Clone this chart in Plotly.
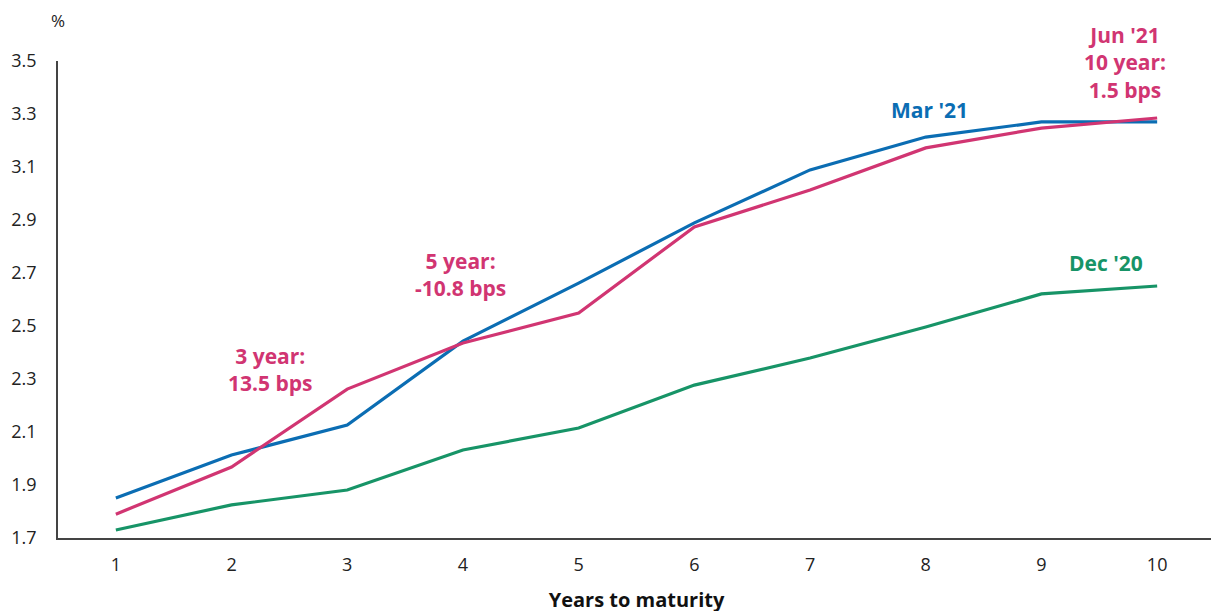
import plotly.graph_objects as go

years = [1, 2, 3, 4, 5, 6, 7, 8, 9, 10]
dec20 = [1.73, 1.825, 1.881, 2.032, 2.115, 2.277, 2.379, 2.496, 2.621, 2.651]
mar21 = [1.851, 2.013, 2.126, 2.443, 2.662, 2.889, 3.089, 3.213, 3.270, 3.270]
jun21 = [1.790, 1.968, 2.262, 2.436, 2.549, 2.874, 3.013, 3.172, 3.247, 3.285]
y_ticks = [1.7, 1.9, 2.1, 2.3, 2.5, 2.7, 2.9, 3.1, 3.3, 3.5]

BLUE = "#0b6db3"
PINK = "#d13572"
GREEN = "#179467"

fig = go.Figure()
for name, vals, col in [("Dec '20", dec20, GREEN), ("Mar '21", mar21, BLUE), ("Jun '21", jun21, PINK)]:
    fig.add_trace(go.Scatter(x=years, y=vals, mode="lines", name=name,
                             line=dict(color=col, width=3.2)))

afont = dict(family="Open Sans, Noto Sans, sans-serif", size=21, weight="bold")
annots = [
    (9.72, 3.496, "Jun '21<br>10 year:<br>1.5 bps", PINK),
    (8.03, 3.315, "Mar '21", BLUE),
    (9.56, 2.738, "Dec '20", GREEN),
    (3.98, 2.696, "5 year:<br>-10.8 bps", PINK),
    (2.33, 2.334, "3 year:<br>13.5 bps", PINK),
]
for x, y, t, c in annots:
    fig.add_annotation(x=x, y=y, text=t, showarrow=False, xanchor="center", yanchor="middle",
                       font=dict(color=c, **afont))

fig.add_annotation(xref="paper", yref="paper", x=0.0, y=1.0, yshift=41,
                   text="%", showarrow=False, xanchor="center", yanchor="middle",
                   font=dict(family="Open Sans, Noto Sans, sans-serif", size=17, color="#222"))

fig.update_layout(
    width=1219, height=611,
    margin=dict(l=50, r=12, t=53, b=81),
    paper_bgcolor="white", plot_bgcolor="white",
    showlegend=False,
    font=dict(family="Open Sans, Noto Sans, sans-serif", color="#222"),
)
fig.update_xaxes(range=[0.5, 10.5], tickvals=years, showgrid=False, zeroline=False,
                 showline=True, linecolor="#444", linewidth=1.5, ticks="",
                 ticklabelstandoff=10, automargin=False,
                 tickfont=dict(size=18, color="#222"),
                 title=dict(text="<b>Years to maturity</b>", font=dict(size=20, color="#111"), standoff=18))
fig.update_yaxes(range=[1.7, 3.5], tickvals=y_ticks, ticktext=[f"{v:.1f}" for v in y_ticks],
                 showgrid=False, zeroline=False, showline=True, linecolor="#444", linewidth=1.5,
                 ticks="", ticklabelstandoff=16, automargin=False,
                 tickfont=dict(size=18, color="#222"))

fig.write_html("out.html")
